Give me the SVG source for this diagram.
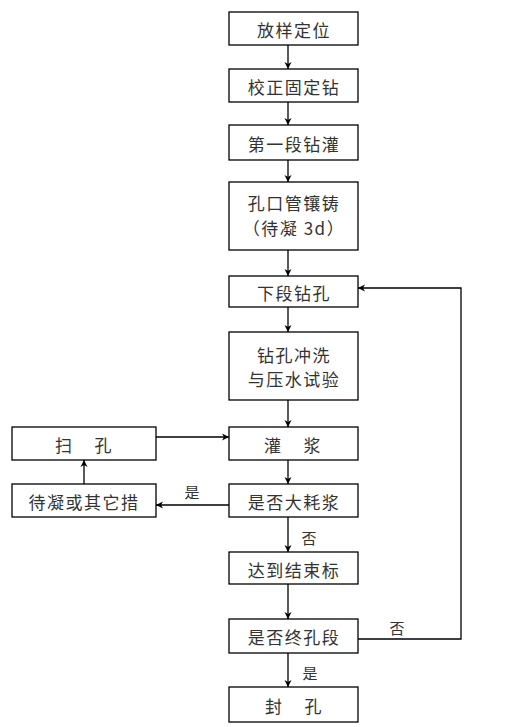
<svg xmlns="http://www.w3.org/2000/svg" width="517" height="727" viewBox="0 0 517 727">
<defs>
<style>
rect{fill:#fff;stroke:#000;stroke-width:1.3}
text{font-family:"Noto Sans CJK SC","Noto Sans CJK JP",sans-serif;font-size:17px;fill:#333;text-anchor:middle;dominant-baseline:central;letter-spacing:1.5px}
.c line,.c polyline{stroke:#000;stroke-width:1.3;fill:none;marker-end:url(#ah)}
.lbl{font-size:15px;letter-spacing:0}
</style>
<marker id="ah" markerWidth="8" markerHeight="8" refX="7" refY="4" orient="auto" markerUnits="userSpaceOnUse">
<path d="M0,0.5 L7,4 L0,7.5 L2,4 Z" fill="#000"/>
</marker>
</defs>
<rect x="0" y="0" width="517" height="727" style="fill:#fff;stroke:none"/>
<g id="n1"><rect x="229" y="12" width="129" height="33"/><text x="294" y="29">放样定位</text></g>
<g id="n2"><rect x="229" y="69" width="129" height="33"/><text x="294" y="86">校正固定钻</text></g>
<g id="n3"><rect x="229" y="125" width="129" height="35"/><text x="294" y="143">第一段钻灌</text></g>
<g id="n4"><rect x="229" y="182" width="129" height="68"/><text x="294" y="202">孔口管镶铸</text><text x="294" y="227">（待凝 3d）</text></g>
<g id="n5"><rect x="229" y="276" width="129" height="31"/><text x="294" y="292">下段钻孔</text></g>
<g id="n6"><rect x="229" y="332" width="129" height="68"/><text x="294" y="354">钻孔冲洗</text><text x="294" y="378">与压水试验</text></g>
<g id="n7"><rect x="229" y="427" width="129" height="33"/><text x="293" y="444" xml:space="preserve">灌    浆</text></g>
<g id="n8"><rect x="229" y="484" width="129" height="33"/><text x="294" y="501">是否大耗浆</text></g>
<g id="n9"><rect x="229" y="552" width="129" height="32"/><text x="294" y="569">达到结束标</text></g>
<g id="n10"><rect x="229" y="619" width="129" height="34"/><text x="294" y="636">是否终孔段</text></g>
<g id="n11"><rect x="229" y="687" width="129" height="35"/><text x="294" y="705" xml:space="preserve">封    孔</text></g>
<g id="n12"><rect x="12" y="427" width="144" height="33"/><text x="84" y="444" xml:space="preserve">扫    孔</text></g>
<g id="n13"><rect x="12" y="484" width="144" height="33"/><text x="84" y="501">待凝或其它措</text></g>
<g id="connectors" class="c">
<line x1="288" y1="45" x2="288" y2="69"/>
<line x1="288" y1="102" x2="288" y2="125"/>
<line x1="288" y1="160" x2="288" y2="182"/>
<line x1="288" y1="250" x2="288" y2="276"/>
<line x1="288" y1="307" x2="288" y2="332"/>
<line x1="288" y1="400" x2="288" y2="427"/>
<line x1="288" y1="460" x2="288" y2="484"/>
<line x1="288" y1="517" x2="288" y2="552"/>
<line x1="288" y1="584" x2="288" y2="619"/>
<line x1="288" y1="653" x2="288" y2="687"/>
<line x1="229" y1="505" x2="156" y2="505"/>
<line x1="84" y1="484" x2="84" y2="460"/>
<line x1="156" y1="437" x2="229" y2="437"/>
<polyline points="358,639 461,639 461,288 358,288"/>
</g>
<g id="labels">
<text class="lbl" x="192" y="491">是</text>
<text class="lbl" x="309" y="537">否</text>
<text class="lbl" x="397" y="627">否</text>
<text class="lbl" x="310" y="672">是</text>
</g>
</svg>
